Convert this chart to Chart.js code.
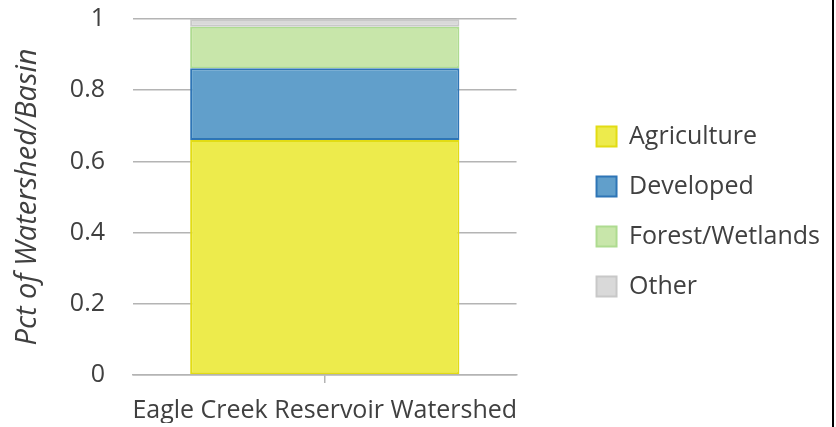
<!DOCTYPE html>
<html>
<head>
<meta charset="utf-8">
<script src="https://cdn.jsdelivr.net/npm/chart.js@4.4.1/dist/chart.umd.min.js"></script>
<style>
  html, body { margin: 0; padding: 0; background: #fff; }
  #wrap { width: 832px; height: 427px; border-right: 2px solid #000; }
</style>
</head>
<body>
<div id="wrap"><canvas id="landUseChart" width="832" height="427"></canvas></div>
<script>
// Land use shares for the watershed
const categories = ["Eagle Creek Reservoir Watershed"];
const agriculture = [0.660];
const developed = [0.202];
const forestWetlands = [0.116];
const other = [0.022];
const yTicks = [0, 0.2, 0.4, 0.6, 0.8, 1];

const textColor = "#404040";
const gridColor = "#B4B4B4";
const fontFamily = "'Open Sans', 'Noto Sans', sans-serif";

const ctx = document.getElementById("landUseChart").getContext("2d");
new Chart(ctx, {
  type: "bar",
  data: {
    labels: categories,
    datasets: [
      { label: "Agriculture", data: agriculture, backgroundColor: "#EDEB4C", borderColor: "#E2DC14", borderWidth: 2 },
      { label: "Developed", data: developed, backgroundColor: "#619FCB", borderColor: "#2E75B6", borderWidth: 2 },
      { label: "Forest/Wetlands", data: forestWetlands, backgroundColor: "#C8E6AA", borderColor: "#AEDB90", borderWidth: 2 },
      { label: "Other", data: other, backgroundColor: "#D9D9D9", borderColor: "#C8C8C8", borderWidth: 2 }
    ]
  },
  options: {
    responsive: false,
    animation: false,
    layout: { padding: { top: 0, right: 2, bottom: 4, left: 0 } },
    datasets: { bar: { categoryPercentage: 1, barPercentage: 0.702, borderSkipped: false } },
    scales: {
      x: {
        stacked: true,
        afterFit(axis) { axis.height = 48; },
        border: { display: true, color: gridColor, width: 1.5 },
        grid: { display: true, offset: false, drawOnChartArea: false, drawTicks: true, tickLength: 8, color: gridColor, lineWidth: 1.5 },
        ticks: { color: textColor, font: { family: fontFamily, size: 25 }, padding: 13, maxRotation: 0 }
      },
      y: {
        stacked: true,
        min: 0,
        max: 1,
        afterBuildTicks(axis) { axis.ticks = yTicks.map(v => ({ value: v })); },
        // tick padding would otherwise be added above and below the plot
        afterFit(axis) {
          axis.paddingTop = 19;
          axis.paddingBottom = 15;
          axis.width = 133;
        },
        border: { display: false },
        grid: { color: gridColor, lineWidth: 1.5, drawTicks: false },
        ticks: {
          color: textColor,
          font: { family: fontFamily, size: 25 },
          padding: 28,
          callback: v => String(Math.round(v * 10) / 10)
        },
        title: {
          display: true,
          text: "Pct of Watershed/Basin",
          color: textColor,
          font: { family: fontFamily, size: 29, style: "italic" },
          padding: { top: 10, bottom: 11 }
        }
      },
      // empty right-hand axis, only keeps a gap before the legend
      gap: {
        type: "linear",
        position: "right",
        display: true,
        grid: { display: false },
        border: { display: false },
        ticks: { display: false },
        afterFit(axis) { axis.width = 55; }
      }
    },
    plugins: {
      legend: {
        position: "right",
        maxWidth: 300,
        labels: {
          color: textColor,
          font: { family: fontFamily, size: 25 },
          boxWidth: 20,
          boxHeight: 20,
          padding: 25
        }
      },
      tooltip: { enabled: false }
    }
  }
});
</script>
</body>
</html>
